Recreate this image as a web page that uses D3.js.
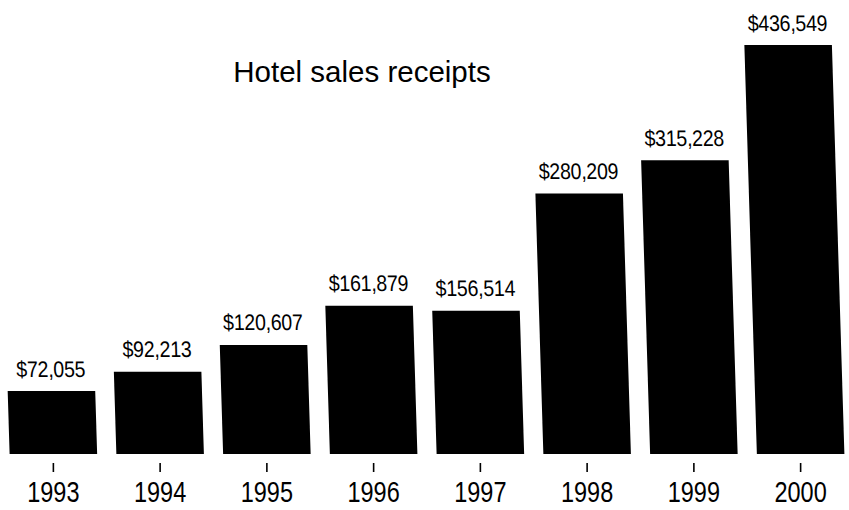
<!DOCTYPE html>
<html>
<head>
<meta charset="utf-8">
<script src="https://cdn.jsdelivr.net/npm/d3@7"></script>
<style>
  html, body { margin: 0; padding: 0; background: #fff; }
  svg { display: block; }
</style>
</head>
<body>
<svg id="chart" width="849" height="510"></svg>
<script>
const years = ["1993", "1994", "1995", "1996", "1997", "1998", "1999", "2000"];
const receipts = [72055, 92213, 120607, 161879, 156514, 280209, 315228, 436549];
const valueLabels = ["$72,055", "$92,213", "$120,607", "$161,879", "$156,514", "$280,209", "$315,228", "$436,549"];
const titleText = "Hotel sales receipts";

const W = 849, H = 510;
const baseY = 454;
const FONT = "'Liberation Sans', Arial, Helvetica, sans-serif";
const svg = d3.select("#chart");
svg.append("rect").attr("width", W).attr("height", H).attr("fill", "#fff");

const x = d3.scaleBand().domain(years).range([0, 854]).paddingInner(0.18).paddingOuter(0.09);
const y = d3.scaleLinear().domain([0, 436549]).range([459.4, 45]);

const g = svg.append("g")
  .attr("transform", `translate(0,${baseY}) skewX(1.75) translate(0,${-baseY})`);

const data = years.map((yr, i) => ({ yr, v: receipts[i], lab: valueLabels[i] }));

g.selectAll("rect.bar").data(data).join("rect")
  .attr("class", "bar")
  .attr("x", d => x(d.yr))
  .attr("width", x.bandwidth())
  .attr("y", d => y(d.v))
  .attr("height", d => baseY - y(d.v))
  .attr("fill", "#000");

// value labels, condensed horizontally like the narrow face of the original
g.selectAll("text.val").data(data).join("text")
  .attr("class", "val")
  .attr("transform", d => `translate(${x(d.yr) + x.bandwidth() / 2},${y(d.v) - 14.5}) scale(0.87,1)`)
  .attr("text-anchor", "middle")
  .attr("font-family", FONT)
  .attr("font-size", 22.5)
  .attr("letter-spacing", -0.3)
  .attr("fill", "#000")
  .text(d => d.lab);

const axis = d3.axisBottom(x).tickSize(9).tickPadding(9).tickSizeOuter(0);
const ag = svg.append("g").attr("transform", "translate(0,463)").call(axis);
ag.select(".domain").remove();
ag.selectAll(".tick line").attr("stroke", "#000").attr("stroke-width", 1.6);
ag.selectAll(".tick text")
  .attr("transform", "scale(0.81,1)")
  .attr("font-family", FONT)
  .attr("font-size", 29)
  .attr("fill", "#000");

svg.append("text")
  .attr("x", 362)
  .attr("y", 82)
  .attr("text-anchor", "middle")
  .attr("font-family", FONT)
  .attr("font-size", 29.5)
  .attr("fill", "#000")
  .text(titleText);
</script>
</body>
</html>
